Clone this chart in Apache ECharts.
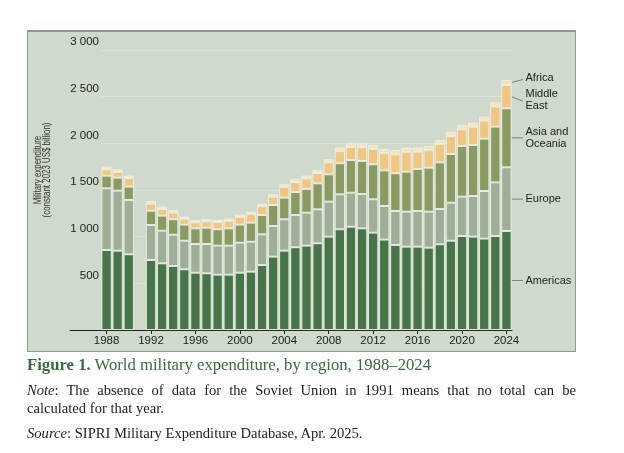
<!DOCTYPE html>
<html>
<head>
<meta charset="utf-8">
<script src="https://cdn.jsdelivr.net/npm/echarts@6.0.0/dist/echarts.min.js"></script>
<style>
  html, body { margin: 0; padding: 0; background: #ffffff; }
  #wrap { position: relative; width: 624px; height: 453px; overflow: hidden; }
  #panel {
    position: absolute; left: 27px; top: 30px; width: 549px; height: 322px;
    box-sizing: border-box; background: #cfd9cc;
    border: 1px solid #8e988c; border-top: 2px solid #8e988c;
  }
  #chart { position: absolute; left: 0; top: 0; width: 624px; height: 356px; }
  .cap { position: absolute; left: 27px; width: 549px; font-family: 'Liberation Serif', serif; }
  #figcap { top: 355px; font-size: 16.7px; line-height: 20px; color: #3b6a40; white-space: nowrap; }
  .txt { font-size: 14.6px; line-height: 18.3px; color: #1d1d1d; white-space: nowrap; }
  #note1 { top: 381px; text-align: justify; text-align-last: justify; }
  #note2 { top: 399.3px; }
  #source { top: 424px; }
</style>
</head>
<body>
<div id="wrap">
  <div id="panel"></div>
  <div id="chart"></div>
  <div class="cap" id="figcap"><b>Figure 1.</b> World military expenditure, by region, 1988–2024</div>
  <div class="cap txt" id="note1"><i>Note</i>: The absence of data for the Soviet Union in 1991 means that no total can be</div>
  <div class="cap txt" id="note2">calculated for that year.</div>
  <div class="cap txt" id="source"><i>Source</i>: SIPRI Military Expenditure Database, Apr. 2025.</div>
</div>
<script>
// values (constant 2023 US$ billion); 1991 has no data
const years = ['1988', '1989', '1990', '1991', '1992', '1993', '1994', '1995', '1996', '1997', '1998', '1999',
  '2000', '2001', '2002', '2003', '2004', '2005', '2006', '2007', '2008', '2009', '2010', '2011', '2012',
  '2013', '2014', '2015', '2016', '2017', '2018', '2019', '2020', '2021', '2022', '2023', '2024'];
const americas = [857, 850, 811, null, 750, 714, 686, 650, 614, 607, 593, 593, 614, 625, 696, 786, 850, 886, 904, 929, 1000, 1079, 1107, 1089, 1043, 968, 911, 893, 893, 882, 918, 957, 1007, 1000, 979, 1007, 1061];
const europe = [661, 643, 582, null, 375, 350, 335, 307, 307, 314, 311, 311, 322, 321, 329, 328, 336, 346, 353, 364, 375, 375, 364, 368, 357, 361, 364, 375, 382, 386, 378, 407, 422, 436, 510, 575, 682];
const asiaOceania = [135, 139, 143, null, 153, 161, 165, 172, 168, 175, 175, 185, 193, 204, 207, 225, 232, 246, 254, 278, 293, 332, 350, 354, 375, 381, 404, 428, 450, 471, 500, 522, 542, 546, 561, 597, 632];
const middleEast = [69, 62, 92, null, 76, 71, 72, 63, 65, 69, 78, 81, 83, 94, 93, 89, 116, 108, 113, 111, 126, 130, 140, 148, 165, 183, 204, 213, 186, 190, 198, 192, 178, 196, 194, 215, 250];
const africa = [28, 27, 26, null, 28, 25, 24, 22, 21, 21, 22, 23, 24, 24, 25, 26, 27, 28, 30, 32, 35, 38, 39, 41, 42, 44, 46, 45, 43, 42, 42, 43, 44, 43, 42, 45, 54];
const tickYears = [1988, 1992, 1996, 2000, 2004, 2008, 2012, 2016, 2020, 2024];

const regions = [
  { name: 'Americas', label: 'Americas', data: americas, color: '#477449', dy: 0 },
  { name: 'Europe', label: 'Europe', data: europe, color: '#9fae96', dy: 0 },
  { name: 'Asia and Oceania', label: 'Asia and\nOceania', data: asiaOceania, color: '#8b9a60', dy: 0 },
  { name: 'Middle East', label: 'Middle\nEast', data: middleEast, color: '#f1c680', dy: 3.5 },
  { name: 'Africa', label: 'Africa', data: africa, color: '#f6e2b3', dy: -4.5 }
];

// bar grid: one band per year
const BAR_LEFT = 101, BAR_WIDTH_TOTAL = 411;
const BAND = BAR_WIDTH_TOTAL / years.length;
const BAR_W = 10.2;
// axis-line grid reaches further left; its value scale lines up with the bands
const AXIS_LEFT = 70, AXIS_WIDTH = 442;
const X_MIN = 1988 - (BAR_LEFT + BAND / 2 - AXIS_LEFT) / BAND;
const X_MAX = X_MIN + AXIS_WIDTH / BAND;
const sans = "'Liberation Sans', Arial, sans-serif";

const chart = echarts.init(document.getElementById('chart'), null, { renderer: 'canvas' });

chart.setOption({
  animation: false,
  backgroundColor: 'transparent',
  grid: [
    { left: AXIS_LEFT, top: 50, width: AXIS_WIDTH, height: 280 },
    { left: BAR_LEFT, top: 50, width: BAR_WIDTH_TOTAL, height: 280 }
  ],
  xAxis: [
    {
      gridIndex: 0, type: 'value', min: X_MIN, max: X_MAX,
      axisLine: { show: true, lineStyle: { color: '#222', width: 1 } },
      axisTick: { show: true, customValues: tickYears, length: 4, lineStyle: { color: '#222' } },
      axisLabel: {
        customValues: tickYears, margin: 5, color: '#222', fontSize: 11.5, fontFamily: sans,
        formatter: v => String(v)
      },
      splitLine: { show: false }
    },
    {
      gridIndex: 1, type: 'category', data: years, boundaryGap: true,
      axisLine: { show: false }, axisTick: { show: false }, axisLabel: { show: false }
    }
  ],
  yAxis: [
    { gridIndex: 0, type: 'value', min: 0, max: 3000, show: false },
    {
      gridIndex: 1, type: 'value', min: 0, max: 3000, interval: 500,
      axisLine: { show: false }, axisTick: { show: false },
      splitLine: { lineStyle: { color: '#dce2d9', width: 1 } },
      axisLabel: {
        margin: 2, verticalAlign: 'bottom', padding: [0, 0, 2, 0],
        color: '#222', fontSize: 11.5, fontFamily: sans,
        formatter: v => v === 0 ? '' : String(v).replace(/\B(?=(\d{3})+$)/g, ' ')
      }
    }
  ],
  series: regions.map(r => ({
    name: r.name,
    type: 'bar',
    stack: 'total',
    xAxisIndex: 1,
    yAxisIndex: 1,
    barWidth: BAR_W,
    data: r.data,
    itemStyle: { color: r.color, borderColor: '#edf0e9', borderWidth: 0.9 }
  }))
});

// end labels with leader lines, placed from the 2024 stack through the axes
function endLabels() {
  const last = years.length - 1;
  const els = [];
  let base = 0;
  regions.forEach(r => {
    const v = r.data[last];
    const mid = chart.convertToPixel({ xAxisIndex: 1, yAxisIndex: 1 }, [years[last], base + v / 2]);
    base += v;
    const x0 = mid[0] + BAR_W / 2;
    const y1 = mid[1] + r.dy + (r.dy < 0 ? 1.5 : r.dy > 0 ? 1 : 0);
    els.push({
      type: 'line', silent: true,
      shape: { x1: x0, y1: mid[1], x2: 523, y2: y1 },
      style: { stroke: '#6b6b6b', lineWidth: 0.8 }
    });
    els.push({
      type: 'text', silent: true,
      x: 525.5, y: mid[1] + r.dy,
      style: {
        text: r.label, fill: '#222', fontSize: 11, lineHeight: 11.7,
        fontFamily: sans, align: 'left', verticalAlign: 'middle'
      }
    });
  });
  els.push({
    type: 'text', silent: true,
    x: 43, y: 170, rotation: Math.PI / 2, scaleX: 0.79,
    style: {
      text: 'Military expenditure\n(constant 2023 US$ billion)',
      fill: '#333', fontSize: 10, lineHeight: 9,
      fontFamily: sans, align: 'center', verticalAlign: 'middle'
    }
  });
  chart.setOption({ graphic: { elements: els } });
}
endLabels();
</script>
</body>
</html>
